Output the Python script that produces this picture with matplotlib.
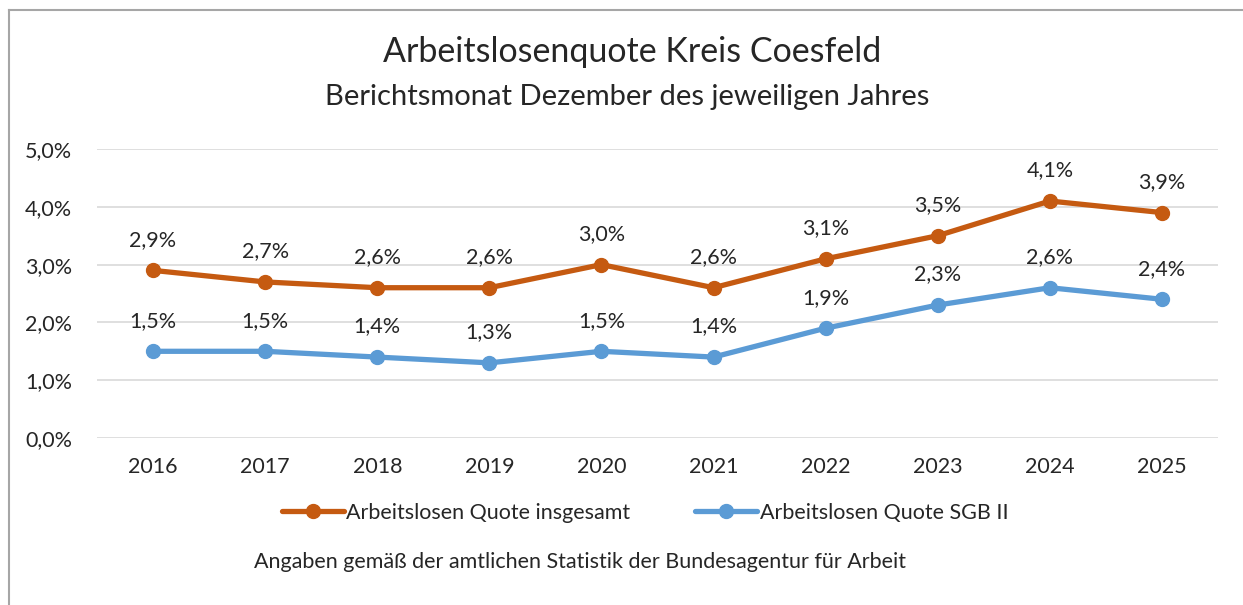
import matplotlib.pyplot as plt
from matplotlib.lines import Line2D

plt.rcParams['font.family'] = ['Lato', 'DejaVu Sans']

years = ["2016", "2017", "2018", "2019", "2020", "2021", "2022", "2023", "2024", "2025"]
quote_gesamt = [2.9, 2.7, 2.6, 2.6, 3.0, 2.6, 3.1, 3.5, 4.1, 3.9]
quote_sgb2 = [1.5, 1.5, 1.4, 1.3, 1.5, 1.4, 1.9, 2.3, 2.6, 2.4]
y_ticks = [0, 1, 2, 3, 4, 5]

orange = "#C55A11"
blue = "#5B9BD5"

W, H = 1243, 605
fig = plt.figure(figsize=(W / 100, H / 100), dpi=100)
ax = fig.add_axes([97 / W, 1 - 438 / H, (1218 - 97) / W, (438 - 149) / H])

x = list(range(len(years)))
ax.plot(x, quote_gesamt, color=orange, lw=3.8, marker="o", ms=10,
        solid_capstyle="round", label="Arbeitslosen Quote insgesamt", zorder=3)
ax.plot(x, quote_sgb2, color=blue, lw=3.8, marker="o", ms=10,
        solid_capstyle="round", label="Arbeitslosen Quote SGB II", zorder=3)

for series in (quote_gesamt, quote_sgb2):
    for i, v in enumerate(series):
        ax.annotate(f"{v:.1f}%".replace(".", ","), (i, v), xytext=(0, 22),
                    textcoords="offset points", ha="center", va="center",
                    fontsize=15.5, color="#262626")

ax.set_xlim(-0.5, len(years) - 0.5)
ax.set_ylim(0, 5)
ax.set_yticks(y_ticks)
ax.set_yticklabels([f"{t:.1f}%".replace(".", ",") for t in y_ticks])
ax.set_xticks(x)
ax.set_xticklabels(years)
ax.tick_params(axis="both", length=0, labelsize=15.5, colors="#262626")
ax.tick_params(axis="x", pad=14)
ax.tick_params(axis="y", pad=18)
ax.grid(axis="y", color="#D9D9D9", lw=1.2)
ax.set_axisbelow(True)
for s in ax.spines.values():
    s.set_visible(False)

fig.text(632 / W, 1 - 52 / H, "Arbeitslosenquote Kreis Coesfeld", ha="center", va="center",
         fontsize=24.5, color="#262626")
fig.text(627 / W, 1 - 97 / H, "Berichtsmonat Dezember des jeweiligen Jahres", ha="center",
         va="center", fontsize=21, color="#262626")

fig.legend(loc="center", bbox_to_anchor=(645 / W, 1 - 513 / H), ncol=2, frameon=False,
           fontsize=15.5, handlelength=2.9, handletextpad=0.1, columnspacing=3.0,
           labelcolor="#262626")

fig.text(580 / W, 1 - 562 / H, "Angaben gemäß der amtlichen Statistik der Bundesagentur für Arbeit",
         ha="center", va="center", fontsize=15.5, color="#262626")

# frame around the chart area
fig.add_artist(Line2D([9 / W, 9 / W], [0, 1 - 10 / H], color="#A6A6A6", lw=1.5))
fig.add_artist(Line2D([9 / W, 1], [1 - 10 / H, 1 - 10 / H], color="#A6A6A6", lw=1.5))

fig.savefig("out.png", dpi=100)
